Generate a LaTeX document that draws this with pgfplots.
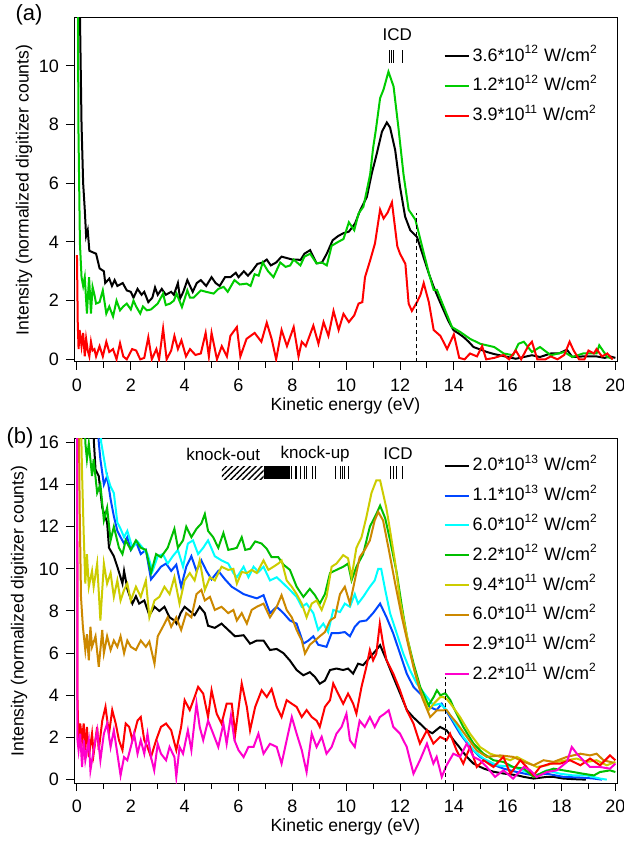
\documentclass[border=0pt]{standalone}
\usepackage{fontspec}
\setmainfont{Liberation Sans}
\usepackage{pgfplots}
\pgfplotsset{compat=1.18}
\usetikzlibrary{patterns.meta}

\definecolor{cgreenA}{RGB}{0,204,0}
\definecolor{cgreenB}{RGB}{0,190,0}
\definecolor{cred}{RGB}{255,0,0}
\definecolor{cblue}{RGB}{0,70,255}
\definecolor{ccyan}{RGB}{0,255,255}
\definecolor{cyell}{RGB}{204,204,0}
\definecolor{cbrown}{RGB}{204,136,0}
\definecolor{cmag}{RGB}{255,0,204}

\pgfplotsset{
  spec/.style={
    scale only axis, width=271.5pt, height=172pt,
    xmin=-0.11, xmax=20.06,
    xtick={0,2,...,20}, minor x tick num=1,
    tick align=outside, xtick pos=bottom, ytick pos=left,
    major tick length=4pt, minor tick length=3pt,
    every tick/.style={black, line width=0.5pt},
    axis line style={line width=0.5pt},
    tick label style={font=\fontsize{9}{10}\selectfont},
    xticklabel style={yshift=-0.8pt},
    /pgf/number format/assume math mode=true,
    xlabel={Kinetic energy (eV)},
    ylabel={Intensity (normalized digitizer counts)},
    label style={font=\fontsize{8.8}{10}\selectfont},
    xlabel style={at={(axis description cs:0.5,-0.128)}, anchor=center},
    legend cell align=left,
    legend style={draw=none, fill=none, font=\fontsize{9}{10}\selectfont,
      inner sep=0pt, row sep=2.9pt,
      nodes={inner sep=1.5pt, text height=7pt, text depth=2pt}},
    legend image code/.code={\draw[#1, line width=1pt] (0pt,0pt) -- (12pt,0pt);},
    every axis plot/.append style={line width=1pt, mark=none},
  }
}
\newcommand{\wcm}[2]{#1*10\textsuperscript{#2} W/cm\textsuperscript{2}}

\begin{document}
\begin{tikzpicture}
\path[use as bounding box] (0,0) rectangle (312pt,420.5pt);

% ---------------- panel (a)
\begin{axis}[spec, at={(37pt,239.5pt)}, anchor=south west,
  ymin=-0.09, ymax=11.63, ytick={0,2,...,10},
  ylabel style={at={(axis description cs:-0.092,0.5)}, anchor=center},
  legend style={at={(rel axis cs:0.68,0.925)}, anchor=north west}]
\addplot[black] coordinates {
(0.08,14) (0.11,11.8) (0.17,8.0) (0.23,6.0) (0.29,5.1) (0.34,4.2) (0.40,4.4) (0.46,3.7) (0.58,3.65) (0.71,3.6)
(0.84,3.1) (1.0,3.0) (1.05,2.6) (1.2,2.75) (1.3,2.5) (1.4,2.7) (1.5,2.5) (1.7,2.6) (1.85,2.35) (2.0,2.3)
(2.1,2.1) (2.25,2.4) (2.4,2.2) (2.5,2.3) (2.65,1.95) (2.8,2.1) (2.9,2.45) (3.0,2.2) (3.15,2.4) (3.3,2.2)
(3.5,2.3) (3.6,2.2) (3.75,2.6) (3.83,2.07) (3.95,2.3) (4.1,2.7) (4.3,2.3) (4.45,2.6) (4.6,2.7) (4.8,2.5)
(5.0,2.8) (5.15,2.6) (5.3,2.5) (5.5,2.8) (5.7,2.8) (5.9,2.95) (6.0,2.8) (6.2,3.0) (6.35,2.85) (6.5,3.0)
(6.7,3.25) (6.9,3.3) (7.05,3.4) (7.2,3.2) (7.4,3.3) (7.6,3.5) (7.8,3.45) (8.0,3.4) (8.2,3.4) (8.3,3.38)
(8.45,3.6) (8.66,3.72) (8.9,3.27) (9.1,3.3) (9.28,3.6) (9.5,4.06) (9.7,4.2) (9.9,4.3) (10.1,4.35) (10.33,4.63)
(10.52,5.08) (10.77,5.54) (10.95,6.33) (11.14,7.02) (11.33,7.76) (11.51,8.07) (11.63,7.9) (11.82,7.13) (12.0,5.88) (12.19,4.86)
(12.38,4.4) (12.63,4.17) (12.87,3.49) (13.06,2.95) (13.25,2.47) (13.44,2.05) (13.62,1.67) (13.8,1.3) (13.99,0.99) (14.18,0.88)
(14.36,0.76) (14.55,0.6) (14.73,0.42) (15.0,0.33) (15.23,0.25) (15.5,0.18) (15.7,0.14) (16.0,0.08) (16.3,0.02) (16.6,0.08)
(16.9,0.14) (17.2,0.08) (17.6,0.2) (17.9,0.2) (18.2,0.33) (18.4,0.08) (18.8,0.1) (19.3,0.1) (19.6,0.05) (19.8,0.1) (20.0,0.05)
};
\addlegendentry{\wcm{3.6}{12}}
\addplot[cgreenA] coordinates {
(0.04,14) (0.05,8.2) (0.11,3.95) (0.17,2.8) (0.23,2.5) (0.29,2.8) (0.37,1.56) (0.45,2.8) (0.52,1.56) (0.58,2.47)
(0.65,2.2) (0.71,1.9) (0.84,1.95) (0.96,2.35) (1.09,1.56) (1.2,1.8) (1.34,1.46) (1.47,2.0) (1.6,1.67) (1.72,1.8)
(1.85,1.9) (2.0,1.7) (2.1,2.0) (2.2,1.8) (2.35,1.56) (2.45,1.8) (2.6,1.67) (2.75,1.7) (2.85,1.78) (3.0,1.9)
(3.2,2.24) (3.3,1.85) (3.46,1.9) (3.6,2.0) (3.7,2.24) (3.9,1.78) (4.1,2.35) (4.2,2.1) (4.33,2.1) (4.6,2.35)
(4.8,2.3) (5.08,2.24) (5.25,2.4) (5.45,2.47) (5.6,2.3) (5.85,2.7) (6.05,2.55) (6.3,2.58) (6.45,2.5) (6.6,2.9)
(6.75,2.85) (6.9,3.3) (7.1,3.0) (7.3,2.8) (7.55,3.3) (7.75,3.15) (7.92,3.2) (8.05,3.4) (8.3,3.2) (8.45,3.5)
(8.66,3.6) (8.9,3.27) (9.1,3.3) (9.28,3.2) (9.46,3.87) (9.7,4.0) (9.9,4.1) (10.1,4.67) (10.3,4.4) (10.46,4.97)
(10.64,5.2) (10.89,6.3) (11.0,7.2) (11.1,7.8) (11.26,8.9) (11.39,9.2) (11.57,9.8) (11.76,9.3) (11.94,7.9) (12.13,6.3)
(12.32,5.1) (12.57,4.76) (12.82,3.85) (13.07,2.94) (13.25,2.37) (13.37,2.37) (13.62,1.8) (13.93,1.1) (14.24,0.93) (14.6,0.7)
(14.98,0.53) (15.5,0.42) (15.85,0.2) (16.2,0.14) (16.4,0.53) (16.6,0.6) (16.9,0.25) (17.2,0.42) (17.6,0.14) (18.1,0.25)
(18.4,0.08) (18.8,0.2) (19.3,0.2) (19.4,0.48) (19.7,0.08) (19.9,0.02)
};
\addlegendentry{\wcm{1.2}{12}}
\addplot[cred] coordinates {
(0.0,3.55) (0.03,1.2) (0.06,0.35) (0.1,1.0) (0.17,0.45) (0.23,0.9) (0.29,0.1) (0.34,0.7) (0.4,0.3) (0.46,0.1)
(0.52,0.6) (0.58,0.3) (0.65,0.35) (0.71,0.1) (0.84,0.45) (0.96,0.1) (1.09,0.6) (1.2,0.25) (1.34,0.35) (1.47,0.0)
(1.6,0.55) (1.72,0.1) (1.85,0.0) (2.05,0.35) (2.2,0.3) (2.35,0.0) (2.5,0.05) (2.65,0.75) (2.78,0.0) (2.95,0.35)
(3.05,0.0) (3.2,1.05) (3.33,0.0) (3.5,0.3) (3.62,0.8) (3.75,0.35) (3.88,0.65) (4.05,0.1) (4.2,0.35) (4.4,0.15)
(4.6,0.2) (4.78,0.9) (4.9,0.1) (5.0,0.9) (5.2,0.0) (5.38,0.45) (5.57,0.1) (5.7,0.8) (5.94,1.1) (6.07,0.1)
(6.3,0.7) (6.6,0.9) (6.85,0.6) (7.05,1.25) (7.23,0.7) (7.4,0.0) (7.6,1.0) (7.8,0.45) (8.05,1.1) (8.23,0.1)
(8.35,0.6) (8.5,0.45) (8.78,1.15) (8.97,0.53) (9.16,1.27) (9.34,0.8) (9.53,1.65) (9.72,1.0) (9.9,1.55) (10.1,1.27)
(10.3,1.5) (10.46,1.9) (10.6,1.95) (10.7,2.8) (10.9,3.4) (11.07,3.95) (11.26,5.1) (11.39,4.8) (11.54,5.0) (11.7,5.35)
(11.9,3.85) (12.0,3.6) (12.2,3.25) (12.32,1.9) (12.44,1.65) (12.63,1.95) (12.76,2.2) (12.88,2.6) (13.07,1.95) (13.25,1.0)
(13.5,0.8) (13.75,0.35) (14.0,0.85) (14.2,0.05) (14.4,0.0) (14.6,0.2) (14.86,0.1) (15.05,0.45) (15.2,0.0) (15.5,0.05)
(15.85,0.15) (16.05,0.0) (16.3,0.3) (16.5,0.0) (16.76,0.45) (16.9,0.6) (17.1,0.0) (17.4,0.0) (17.6,0.1) (17.85,0.0)
(18.1,0.15) (18.3,0.6) (18.45,0.3) (18.65,0.0) (18.85,0.0) (19.0,0.3) (19.2,0.2) (19.3,0.35) (19.5,0.1) (19.7,0.2) (19.9,0.0)
};
\addlegendentry{\wcm{3.9}{11}}
\draw[line width=0.5pt, dash pattern=on 2pt off 1.5pt] (axis cs:12.63,-0.1) -- (axis cs:12.63,5.0);
\draw[line width=0.5pt] (axis cs:11.62,10.1) -- (axis cs:11.62,10.53)
  (axis cs:11.69,10.1) -- (axis cs:11.69,10.53)
  (axis cs:11.76,10.1) -- (axis cs:11.76,10.53)
  (axis cs:12.09,10.1) -- (axis cs:12.09,10.53);
\node[font=\fontsize{8.5}{10}\selectfont] at (axis cs:11.9,11.05) {ICD};
\end{axis}

% ---------------- panel (b)
\begin{axis}[spec, at={(37pt,29pt)}, anchor=south west,
  ymin=-0.16, ymax=16.16, ytick={0,2,...,16},
  ylabel style={at={(axis description cs:-0.101,0.5)}, anchor=center},
  legend style={at={(rel axis cs:0.68,0.958)}, anchor=north west}]
\addplot[black] coordinates {
(0.5,20) (0.63,16) (0.69,14.7) (0.81,14.4) (0.94,12.9) (1.12,12.2) (1.19,11.0) (1.37,10.6) (1.5,10.1) (1.69,9.3)
(1.75,9.9) (1.88,9.0) (2.06,8.35) (2.19,8.7) (2.31,8.35) (2.5,8.5) (2.69,7.8) (2.88,8.2) (3.06,8.0) (3.25,8.2)
(3.44,7.7) (3.62,7.55) (3.7,7.4) (3.85,7.9) (4.0,8.2) (4.19,8.0) (4.37,7.8) (4.56,8.2) (4.75,7.9) (4.87,7.3)
(5.12,7.2) (5.37,7.4) (5.62,7.1) (5.87,6.8) (6.19,6.85) (6.43,6.45) (6.68,6.6) (6.93,6.6) (7.17,6.15) (7.42,6.2)
(7.67,6.0) (7.91,5.65) (8.16,5.2) (8.41,4.95) (8.65,5.1) (8.84,4.87) (9.02,4.55) (9.21,4.7) (9.4,5.2) (9.64,5.27)
(9.89,5.2) (10.07,5.27) (10.26,5.03) (10.44,5.5) (10.63,5.43) (10.88,5.8) (11.12,6.15) (11.26,6.38) (11.5,5.66) (11.75,4.87)
(12.0,4.1) (12.26,3.29) (12.5,2.95) (12.74,2.66) (13.0,2.34) (13.2,2.2) (13.49,2.5) (13.73,2.34) (14.0,1.86) (14.2,1.55)
(14.48,1.08) (14.73,0.76) (15.1,0.53) (15.48,0.37) (15.85,0.29) (16.34,0.21) (16.6,0.13) (16.96,0.05) (17.45,0.13) (17.7,0.13)
(18.07,0.05) (18.5,0.02) (18.9,0.0)
};
\addlegendentry{\wcm{2.0}{13}}
\addplot[cblue] coordinates {
(0.7,20) (0.81,16) (0.87,15.2) (1.0,14.0) (1.12,14.4) (1.25,13.3) (1.37,12.5) (1.5,11.8) (1.62,11.5) (1.75,11.2)
(1.87,11.5) (2.0,10.9) (2.19,11.3) (2.37,10.7) (2.56,10.9) (2.75,9.5) (2.94,9.8) (3.12,10.1) (3.31,10.25) (3.5,9.9)
(3.69,10.2) (3.87,9.15) (4.06,10.1) (4.25,10.6) (4.44,9.9) (4.62,10.4) (4.81,9.9) (5.0,9.5) (5.25,9.9) (5.5,9.5)
(5.75,9.15) (5.94,9.0) (6.19,8.8) (6.43,8.7) (6.68,8.6) (6.93,8.75) (7.17,7.9) (7.42,8.2) (7.67,7.9) (7.91,7.55)
(8.16,7.4) (8.41,6.45) (8.6,6.6) (8.78,6.8) (8.96,6.4) (9.27,6.3) (9.46,6.95) (9.7,6.95) (9.95,7.0) (10.14,6.8)
(10.32,7.25) (10.5,7.5) (10.75,7.55) (11.0,7.9) (11.26,8.35) (11.5,7.7) (11.75,6.93) (12.0,5.98) (12.25,5.03) (12.5,4.4)
(12.87,3.92) (13.1,3.45) (13.36,3.3) (13.55,3.6) (13.86,2.97) (14.23,2.18) (14.6,1.55) (14.97,1.08) (15.35,0.76) (15.85,0.52)
(16.34,0.36) (16.96,0.2) (17.45,0.28) (18.07,0.13) (18.7,0.1) (19.2,0.05) (19.5,0.0)
};
\addlegendentry{\wcm{1.1}{13}}
\addplot[ccyan] coordinates {
(0.75,20) (0.9,16) (1.1,14.5) (1.25,13.9) (1.37,13.6) (1.5,12.2) (1.62,11.9) (1.75,11.5) (1.87,11.8) (2.06,11.0)
(2.25,11.3) (2.44,11.0) (2.62,10.7) (2.81,9.9) (3.0,10.6) (3.19,10.7) (3.37,10.25) (3.56,10.6) (3.75,10.9) (3.94,10.1)
(4.12,11.2) (4.31,11.35) (4.5,10.7) (4.69,11.0) (4.87,11.35) (5.12,10.6) (5.37,10.4) (5.62,10.25) (5.81,9.8) (5.94,9.6)
(6.19,10.1) (6.37,9.6) (6.56,10.1) (6.74,9.85) (6.93,10.1) (7.17,9.45) (7.42,9.6) (7.67,9.3) (7.91,9.0) (8.16,8.67)
(8.35,8.2) (8.53,8.35) (8.78,7.9) (8.96,7.1) (9.15,7.4) (9.33,7.0) (9.52,8.05) (9.77,7.95) (9.95,8.35) (10.14,8.2)
(10.32,8.8) (10.44,8.35) (10.63,8.67) (10.88,9.15) (11.06,9.45) (11.19,10.0) (11.3,10.0) (11.45,9.0) (11.63,7.9) (11.88,6.93)
(12.12,5.98) (12.37,5.2) (12.62,4.56) (13.0,3.92) (13.24,3.53) (13.49,3.6) (13.73,3.3) (13.98,2.82) (14.35,2.03) (14.73,1.39)
(15.1,1.0) (15.6,0.68) (16.2,0.6) (16.7,0.36) (17.08,0.2) (17.45,0.44) (17.95,0.28) (18.44,0.2) (18.94,0.2) (19.43,0.05) (19.68,0.0)
};
\addlegendentry{\wcm{6.0}{12}}
\addplot[cgreenB] coordinates {
(0.25,20) (0.31,16) (0.37,15.2) (0.44,15.95) (0.56,14.4) (0.62,15.2) (0.75,13.6) (0.87,14.0) (1.0,12.3) (1.12,12.9)
(1.25,11.35) (1.37,12.0) (1.56,11.0) (1.69,10.7) (1.81,11.35) (2.0,10.9) (2.19,11.35) (2.37,11.0) (2.56,10.9) (2.75,9.8)
(2.94,10.7) (3.12,10.55) (3.37,11.0) (3.62,11.9) (3.75,11.0) (3.94,11.35) (4.06,12.0) (4.25,11.5) (4.44,11.9) (4.62,12.15)
(4.75,12.6) (4.87,11.8) (5.06,11.5) (5.25,11.0) (5.44,11.7) (5.62,10.9) (5.81,10.95) (5.94,11.0) (6.12,11.5) (6.25,10.9)
(6.43,10.95) (6.62,11.3) (6.86,11.2) (7.05,10.95) (7.23,10.55) (7.48,10.55) (7.67,10.2) (7.91,9.95) (8.16,9.15) (8.41,8.67)
(8.65,9.05) (8.84,8.75) (9.02,8.35) (9.21,8.8) (9.4,9.8) (9.64,9.95) (9.89,10.1) (10.07,10.25) (10.2,9.45) (10.38,10.1)
(10.63,10.7) (10.88,12.0) (11.12,12.6) (11.26,13.0) (11.45,12.4) (11.64,11.3) (11.88,9.8) (12.07,8.2) (12.26,6.77) (12.5,5.52)
(12.75,4.4) (13.06,3.53) (13.25,3.92) (13.37,4.24) (13.5,4.0) (13.68,4.1) (13.87,3.77) (13.98,3.45) (14.35,2.5) (14.73,1.71)
(15.1,1.23) (15.47,0.92) (15.84,0.84) (16.2,0.6) (16.6,0.52) (16.96,0.13) (17.33,0.36) (17.7,0.52) (18.07,0.44) (18.44,0.36)
(18.8,0.28) (19.2,0.2) (19.43,0.36) (19.8,0.44) (20.0,0.36)
};
\addlegendentry{\wcm{2.2}{12}}
\addplot[cyell] coordinates {
(0.1,20) (0.19,14.5) (0.25,11.7) (0.31,9.3) (0.37,10.7) (0.44,9.15) (0.56,9.9) (0.62,9.15) (0.75,10.25) (0.87,7.55)
(1.0,10.25) (1.12,9.3) (1.25,9.8) (1.37,8.67) (1.5,9.45) (1.62,8.5) (1.75,9.0) (1.87,9.3) (2.0,8.5) (2.19,9.15)
(2.37,8.67) (2.56,9.45) (2.69,7.7) (2.88,8.5) (3.06,8.67) (3.25,9.15) (3.44,8.8) (3.62,9.6) (3.81,8.35) (4.0,9.45)
(4.19,9.8) (4.37,9.45) (4.56,10.4) (4.75,9.0) (4.94,9.6) (5.12,9.45) (5.37,10.1) (5.62,9.95) (5.81,10.0) (5.94,9.3)
(6.12,9.85) (6.31,9.8) (6.49,9.95) (6.68,9.8) (6.93,10.4) (7.11,9.95) (7.3,10.1) (7.48,10.25) (7.6,10.4) (7.79,9.45)
(7.98,9.15) (8.16,8.8) (8.35,8.35) (8.53,7.7) (8.72,8.35) (8.9,8.5) (9.09,8.05) (9.27,8.67) (9.46,10.1) (9.64,10.25)
(9.89,10.65) (10.07,10.5) (10.2,9.6) (10.38,11.0) (10.57,11.5) (10.75,12.45) (10.94,13.6) (11.12,14.2) (11.26,14.2) (11.49,12.9)
(11.57,12.3) (11.82,10.3) (12.0,8.5) (12.26,6.8) (12.5,5.36) (12.75,4.24) (13.06,3.29) (13.25,3.6) (13.5,3.92) (13.61,3.92)
(13.75,3.8) (13.92,3.53) (14.23,2.97) (14.6,2.18) (14.97,1.55) (15.35,1.23) (15.72,1.08) (16.09,0.92) (16.34,1.08) (16.7,0.84)
(17.08,0.6) (17.45,0.68) (17.82,0.84) (18.2,0.92) (18.56,1.0) (18.94,0.84) (19.3,0.92) (19.68,0.68) (20.0,0.84)
};
\addlegendentry{\wcm{9.4}{11}}
\addplot[cbrown] coordinates {
(0.05,20) (0.1,12.9) (0.15,8.67) (0.22,7.25) (0.31,6.15) (0.37,6.9) (0.44,5.66) (0.5,7.25) (0.56,6.3) (0.69,6.8)
(0.81,5.35) (0.94,7.1) (1.0,6.0) (1.12,6.8) (1.25,6.15) (1.37,6.6) (1.5,6.3) (1.62,6.8) (1.75,6.0) (1.87,6.6)
(2.0,6.3) (2.19,6.15) (2.37,6.6) (2.56,6.3) (2.69,6.55) (2.88,5.5) (3.0,6.8) (3.19,7.25) (3.37,7.7) (3.5,7.25)
(3.69,7.7) (3.87,7.1) (4.06,7.9) (4.25,7.7) (4.44,8.8) (4.62,9.0) (4.75,8.5) (4.94,8.67) (5.12,8.05) (5.37,8.2)
(5.62,7.9) (5.81,8.05) (5.94,7.55) (6.12,7.9) (6.31,7.4) (6.49,8.05) (6.68,8.2) (6.93,8.35) (7.17,7.7) (7.42,8.2)
(7.6,8.75) (7.79,8.05) (7.98,7.7) (8.16,7.1) (8.35,6.6) (8.47,5.98) (8.65,6.4) (8.84,6.6) (9.02,6.8) (9.21,7.0)
(9.4,7.55) (9.58,7.7) (9.77,8.8) (9.95,9.15) (10.14,8.35) (10.32,9.45) (10.5,10.55) (10.69,10.9) (10.88,11.35) (11.06,12.3)
(11.19,12.7) (11.37,12.3) (11.57,11.0) (11.82,9.3) (12.07,7.7) (12.32,6.3) (12.57,5.0) (12.82,3.9) (13.12,2.97) (13.37,3.29)
(13.62,3.29) (13.73,3.3) (13.9,3.0) (14.1,2.7) (14.48,2.03) (14.85,1.39) (15.22,1.08) (15.72,1.15) (16.2,1.08) (16.6,0.84)
(16.96,0.68) (17.33,0.92) (17.7,0.84) (18.2,1.08) (18.7,1.23) (19.06,1.15) (19.3,1.23) (19.56,0.92) (19.93,0.8)
};
\addlegendentry{\wcm{6.0}{11}}
\addplot[cred] coordinates {
(0.0,20) (0.02,3.77) (0.06,1.7) (0.12,2.66) (0.19,1.87) (0.25,2.66) (0.31,1.4) (0.37,2.5) (0.44,1.07) (0.56,2.18)
(0.62,1.23) (0.75,2.5) (0.81,1.4) (0.94,2.8) (1.06,3.45) (1.19,2.18) (1.31,3.3) (1.44,2.66) (1.56,1.87) (1.69,1.4)
(1.81,2.66) (1.94,2.5) (2.06,1.87) (2.25,2.8) (2.37,2.97) (2.5,1.87) (2.62,1.55) (2.75,1.07) (2.94,1.87) (3.12,2.5)
(3.31,2.66) (3.5,2.34) (3.69,1.4) (3.87,2.5) (4.0,3.77) (4.19,3.3) (4.37,3.92) (4.5,4.4) (4.69,4.08) (4.87,2.97)
(5.0,4.24) (5.19,3.13) (5.37,2.66) (5.56,3.6) (5.75,3.6) (5.88,2.18) (6.12,4.56) (6.31,3.45) (6.43,2.34) (6.62,3.45)
(6.86,4.24) (7.05,3.92) (7.23,4.3) (7.42,3.45) (7.6,2.97) (7.79,3.77) (7.98,3.6) (8.16,3.45) (8.35,2.97) (8.53,3.3)
(8.72,2.97) (8.9,2.8) (9.02,2.5) (9.21,3.45) (9.4,3.77) (9.52,4.56) (9.7,4.08) (9.89,3.6) (10.07,4.08) (10.26,3.6)
(10.38,3.13) (10.57,4.4) (10.75,5.35) (10.88,6.15) (11.0,5.66) (11.12,5.98) (11.25,7.4) (11.37,6.45) (11.5,5.66) (11.75,5.03)
(12.0,4.24) (12.25,3.29) (12.5,2.66) (12.74,1.71) (13.0,2.34) (13.24,1.71) (13.49,2.03) (13.73,1.87) (13.86,2.18) (14.1,1.39)
(14.35,0.76) (14.6,1.55) (14.85,0.6) (15.1,0.92) (15.47,0.6) (15.84,1.08) (16.1,0.28) (16.47,0.92) (16.7,0.6) (16.96,0.2)
(17.2,0.6) (17.58,0.76) (17.95,0.76) (18.32,0.92) (18.7,0.68) (19.06,1.0) (19.43,0.68) (19.8,1.15) (20.0,0.92)
};
\addlegendentry{\wcm{2.9}{11}}
\addplot[cmag] coordinates {
(0.0,20) (0.02,1.87) (0.06,1.4) (0.12,2.18) (0.19,0.6) (0.25,1.87) (0.31,0.92) (0.44,1.87) (0.5,0.44) (0.62,1.4)
(0.75,2.34) (0.87,0.92) (1.0,2.18) (1.12,2.66) (1.25,1.55) (1.37,2.34) (1.5,1.23) (1.62,0.2) (1.75,1.07) (1.87,0.92)
(2.0,1.55) (2.12,2.18) (2.25,1.23) (2.37,1.87) (2.5,1.23) (2.62,2.18) (2.75,1.07) (2.87,0.44) (3.0,1.7) (3.12,1.23)
(3.31,0.92) (3.44,1.55) (3.62,1.07) (3.69,0.13) (3.81,1.55) (3.94,1.23) (4.12,2.34) (4.25,1.4) (4.44,3.6) (4.56,2.5)
(4.69,1.87) (4.87,2.8) (5.06,2.18) (5.25,1.55) (5.44,2.66) (5.56,1.7) (5.72,3.05) (5.85,1.87) (6.0,1.4) (6.19,1.07)
(6.37,1.55) (6.56,1.55) (6.74,2.18) (6.93,1.23) (7.17,1.7) (7.42,1.55) (7.6,0.76) (7.79,1.87) (7.98,2.97) (8.16,2.18)
(8.35,1.4) (8.53,0.36) (8.72,2.18) (8.9,1.55) (9.09,2.03) (9.27,1.23) (9.46,1.55) (9.64,2.18) (9.83,2.5) (10.01,3.13)
(10.14,1.87) (10.32,1.55) (10.5,2.8) (10.69,2.5) (10.88,2.97) (11.06,2.5) (11.25,2.97) (11.43,3.13) (11.58,3.29) (11.75,2.5)
(12.0,2.18) (12.25,1.55) (12.5,0.28) (12.74,0.92) (13.0,1.71) (13.24,0.76) (13.36,1.08) (13.55,0.13) (13.73,0.68) (13.98,1.23)
(14.23,1.08) (14.48,1.71) (14.73,1.08) (14.97,0.92) (15.22,0.6) (15.53,0.13) (15.84,0.44) (16.2,0.05) (16.6,0.6) (16.84,0.44)
(17.08,0.13) (17.45,0.36) (17.82,0.44) (18.2,0.84) (18.38,1.55) (18.57,1.23) (18.8,0.92) (19.06,0.6) (19.43,0.6) (19.8,0.52) (20.0,0.76)
};
\addlegendentry{\wcm{2.2}{11}}
\draw[line width=0.5pt, dash pattern=on 2pt off 1.5pt] (axis cs:13.7,-0.2) -- (axis cs:13.7,4.85);
% transition markers
\fill[pattern={Lines[angle=45, distance=2.1pt, line width=0.7pt]}] (axis cs:5.38,14.26) rectangle (axis cs:6.93,14.87);
\fill (axis cs:6.93,14.26) rectangle (axis cs:7.92,14.87);
\draw[line width=0.5pt]
  (axis cs:7.98,14.26) -- (axis cs:7.98,14.87) (axis cs:8.10,14.26) -- (axis cs:8.10,14.87)
  (axis cs:8.17,14.26) -- (axis cs:8.17,14.87) (axis cs:8.29,14.26) -- (axis cs:8.29,14.87)
  (axis cs:8.44,14.26) -- (axis cs:8.44,14.87) (axis cs:8.51,14.26) -- (axis cs:8.51,14.87)
  (axis cs:8.76,14.26) -- (axis cs:8.76,14.87) (axis cs:8.85,14.26) -- (axis cs:8.85,14.87)
  (axis cs:9.59,14.26) -- (axis cs:9.59,14.87) (axis cs:9.78,14.26) -- (axis cs:9.78,14.87)
  (axis cs:9.86,14.26) -- (axis cs:9.86,14.87) (axis cs:9.93,14.26) -- (axis cs:9.93,14.87)
  (axis cs:10.09,14.26) -- (axis cs:10.09,14.87)
  (axis cs:11.66,14.26) -- (axis cs:11.66,14.87) (axis cs:11.76,14.26) -- (axis cs:11.76,14.87)
  (axis cs:11.86,14.26) -- (axis cs:11.86,14.87) (axis cs:12.11,14.26) -- (axis cs:12.11,14.87);
\node[font=\fontsize{8.5}{10}\selectfont] at (axis cs:5.43,15.45) {knock-out};
\node[font=\fontsize{8.5}{10}\selectfont] at (axis cs:8.85,15.45) {knock-up};
\node[font=\fontsize{8.5}{10}\selectfont] at (axis cs:11.93,15.45) {ICD};
\end{axis}

\node[font=\fontsize{11}{13}\selectfont] at (14.5pt,413pt) {(a)};
\node[font=\fontsize{11}{13}\selectfont] at (10pt,201.75pt) {(b)};
\end{tikzpicture}
\end{document}
